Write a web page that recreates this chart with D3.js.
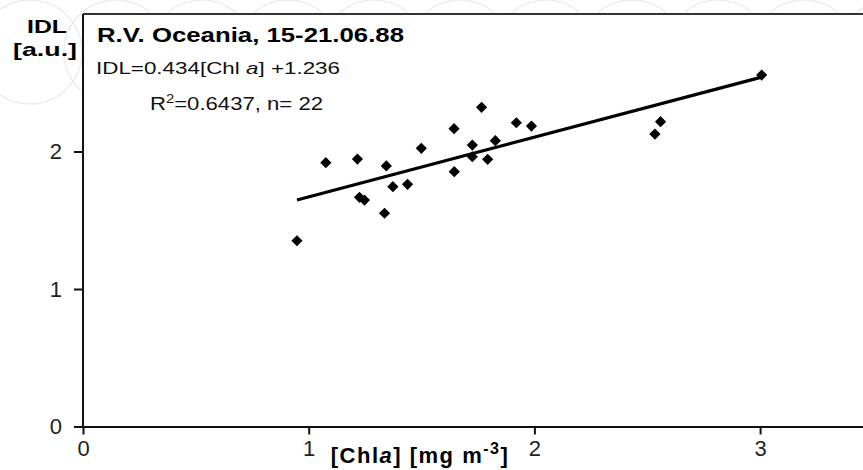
<!DOCTYPE html>
<html>
<head>
<meta charset="utf-8">
<script src="https://cdnjs.cloudflare.com/ajax/libs/d3/7.8.5/d3.min.js"></script>
<style>
  body { margin: 0; background: #fff; }
  svg { display: block; font-family: "Liberation Sans", Arial, sans-serif; }
</style>
</head>
<body>
<svg id="chart" width="863" height="470"></svg>
<script>
  // data: chlorophyll a [mg m-3] vs IDL [a.u.]
  var chl = [0.948, 1.076, 1.216, 1.225, 1.247, 1.344, 1.336, 1.373, 1.438, 1.499, 1.644,
             1.645, 1.725, 1.725, 1.766, 1.793, 1.827, 1.920, 1.987, 2.534, 2.559, 3.007]
  var idl = [1.351, 1.919, 1.945, 1.667, 1.647, 1.895, 1.551, 1.744, 1.761, 2.023, 2.166,
             1.853, 2.047, 1.962, 2.321, 1.943, 2.079, 2.209, 2.185, 2.127, 2.217, 2.556]
  var slope = 0.434, intercept = 1.236
  var xTicks = [0, 1, 2, 3]
  var yTicks = [0, 1, 2]

  var svg = d3.select("#chart")
  var W = 863, H = 470
  var plotLeft = 83, plotTop = 14, plotBottom = 426.5

  var x = d3.scaleLinear().domain([0, 3.456]).range([plotLeft, W])
  var y = d3.scaleLinear().domain([0, 3]).range([plotBottom, plotTop])

  // faint watermark circles behind the plot
  var bg = svg.append("g")
  for (var i = 0; i < 11; i++) {
    bg.append("circle")
      .attr("cx", 30 + i * 86)
      .attr("cy", 52)
      .attr("r", 52)
      .attr("fill", "none")
      .attr("stroke", "#ececec")
      .attr("stroke-width", 1.5)
  }

  svg.append("rect")
    .attr("x", plotLeft).attr("y", plotTop)
    .attr("width", W - plotLeft).attr("height", plotBottom - plotTop)
    .attr("fill", "#fff")

  svg.append("line")
    .attr("x1", plotLeft).attr("x2", W)
    .attr("y1", plotTop).attr("y2", plotTop)
    .attr("stroke", "#333").attr("stroke-width", 2)

  // axes
  var yAxis = svg.append("g")
    .attr("transform", "translate(" + plotLeft + ",0)")
    .call(d3.axisLeft(y).tickValues(yTicks).tickSize(9).tickSizeOuter(0).tickPadding(12).tickFormat(d3.format("d")))
  var xAxis = svg.append("g")
    .attr("transform", "translate(0," + plotBottom + ")")
    .call(d3.axisBottom(x).tickValues(xTicks).tickSize(8).tickSizeOuter(0).tickPadding(6).tickFormat(d3.format("d")))

  ;[xAxis, yAxis].forEach(function(a) {
    a.selectAll("path, line").attr("stroke", "#111").attr("stroke-width", 2)
    a.selectAll("text").attr("font-size", 22).attr("fill", "#222")
      .attr("font-family", "'Liberation Sans', Arial, sans-serif")
  })
  yAxis.select(".domain").attr("d", "M0," + plotTop + "V" + plotBottom)

  // regression line
  var xr = d3.extent(chl)
  svg.append("line")
    .attr("x1", x(xr[0])).attr("y1", y(slope * xr[0] + intercept))
    .attr("x2", x(xr[1])).attr("y2", y(slope * xr[1] + intercept))
    .attr("stroke", "#000").attr("stroke-width", 3.2)

  // points
  var s = 5.6
  svg.append("g").selectAll("path")
    .data(chl)
    .join("path")
    .attr("d", function(d, i) {
      var cx = x(d), cy = y(idl[i])
      return "M" + cx + "," + (cy - s) + "L" + (cx + s) + "," + cy + "L" + cx + "," + (cy + s) + "L" + (cx - s) + "," + cy + "Z"
    })
    .attr("fill", "#000")

  // y-axis title
  svg.append("text").attr("x", 47).attr("y", 33).attr("text-anchor", "middle")
    .attr("font-weight", "bold").attr("font-size", 19).attr("textLength", 40)
    .attr("lengthAdjust", "spacingAndGlyphs").text("IDL")
  svg.append("text").attr("x", 45).attr("y", 56).attr("text-anchor", "middle")
    .attr("font-weight", "bold").attr("font-size", 19).attr("textLength", 64)
    .attr("lengthAdjust", "spacingAndGlyphs").text("[a.u.]")

  // header text
  svg.append("text").attr("x", 97).attr("y", 42)
    .attr("font-weight", "bold").attr("font-size", 21).attr("textLength", 307)
    .attr("lengthAdjust", "spacingAndGlyphs").text("R.V. Oceania, 15-21.06.88")

  var eq = svg.append("text").attr("x", 96).attr("y", 74)
    .attr("font-size", 17).attr("fill", "#111")
    .attr("textLength", 244).attr("lengthAdjust", "spacingAndGlyphs")
  eq.append("tspan").text("IDL=0.434[Chl ")
  eq.append("tspan").attr("font-style", "italic").text("a")
  eq.append("tspan").text("] +1.236")

  var r2 = svg.append("text").attr("x", 150).attr("y", 110)
    .attr("font-size", 18).attr("fill", "#111")
    .attr("textLength", 173).attr("lengthAdjust", "spacingAndGlyphs")
  r2.append("tspan").text("R")
  r2.append("tspan").attr("font-size", 12).attr("dy", -7).text("2")
  r2.append("tspan").attr("dy", 7).text("=0.6437, n= 22")

  // x-axis title
  var xt = svg.append("text").attr("x", 420).attr("y", 463).attr("text-anchor", "middle")
    .attr("font-weight", "bold").attr("font-size", 22).attr("letter-spacing", 1.5)
  xt.append("tspan").text("[Chl")
  xt.append("tspan").attr("font-style", "italic").text("a")
  xt.append("tspan").text("] [mg m")
  xt.append("tspan").attr("font-size", 16).attr("dy", -9).text("-3")
  xt.append("tspan").attr("dy", 9).text("]")
</script>
</body>
</html>
